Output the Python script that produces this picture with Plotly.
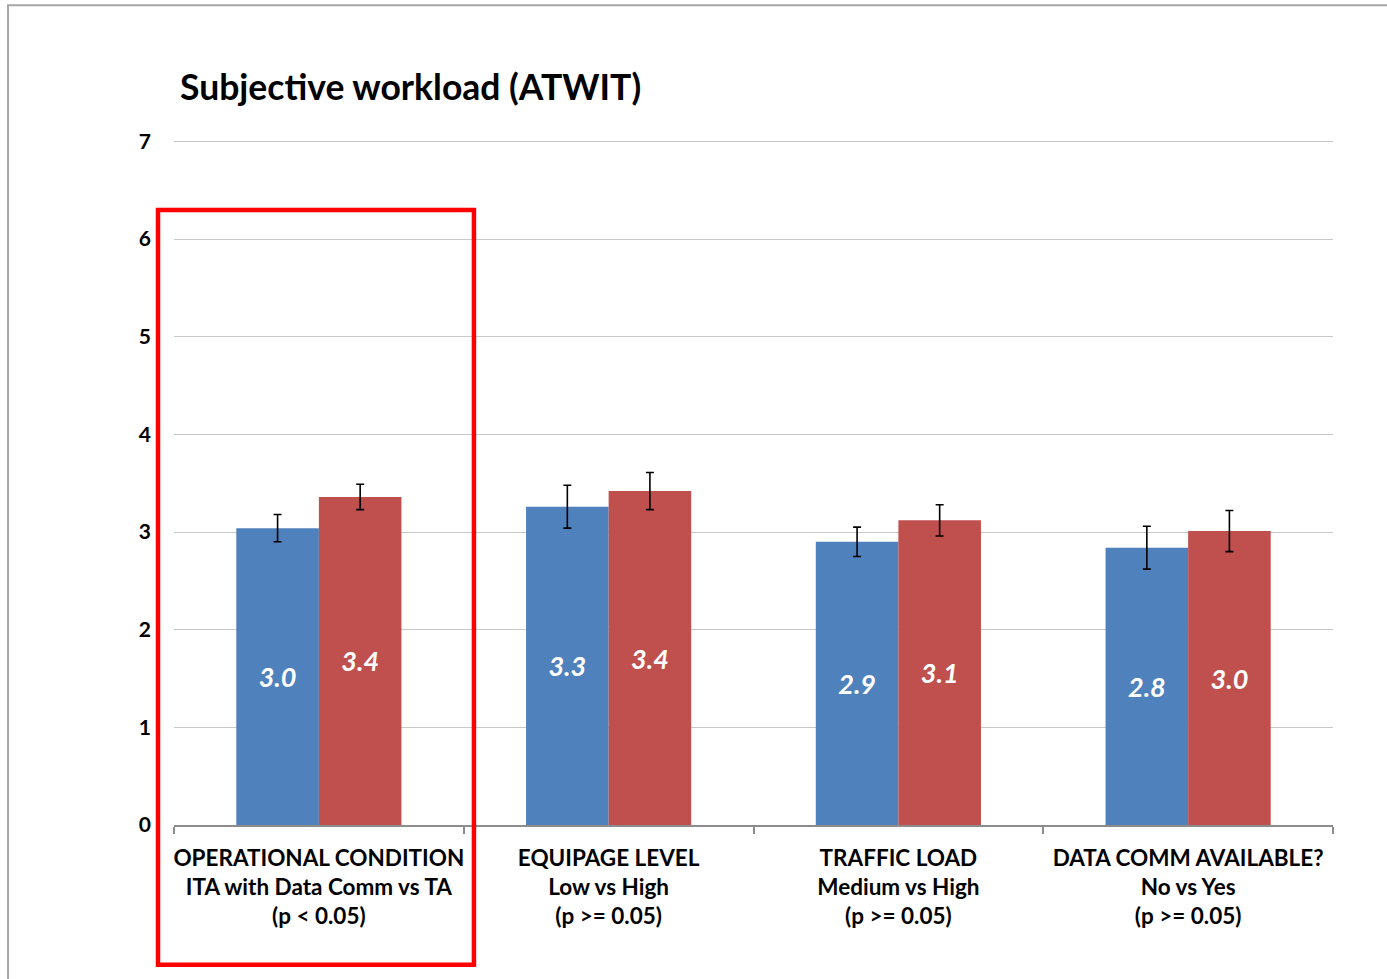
import plotly.graph_objects as go

# Factor labels (three lines each) and the two conditions compared within each factor
categories = [
    "OPERATIONAL CONDITION<br>ITA with Data Comm vs TA<br>(p < 0.05)",
    "EQUIPAGE LEVEL<br>Low vs High<br>(p >= 0.05)",
    "TRAFFIC LOAD<br>Medium vs High<br>(p >= 0.05)",
    "DATA COMM AVAILABLE?<br>No vs Yes<br>(p >= 0.05)",
]
first_level_means = [3.04, 3.26, 2.90, 2.84]
second_level_means = [3.36, 3.42, 3.12, 3.01]
first_level_err = [0.14, 0.22, 0.15, 0.22]
second_level_err = [0.13, 0.19, 0.16, 0.21]
y_ticks = [0, 1, 2, 3, 4, 5, 6, 7]

FONT = "Lato, 'Open Sans', sans-serif"
BLUE = "#4F81BD"
RED = "#C0504D"

fig = go.Figure()
for vals, errs, color in [
    (first_level_means, first_level_err, BLUE),
    (second_level_means, second_level_err, RED),
]:
    fig.add_trace(go.Bar(
        x=categories,
        y=vals,
        marker=dict(color=color, line=dict(width=0)),
        error_y=dict(type="data", array=errs, color="#000000", thickness=1.6, width=4),
        texttemplate="%{y:.1f}",
        textposition="inside",
        insidetextanchor="middle",
        textangle=0,
        textfont=dict(family=FONT, size=27, color="white", weight="bold", style="italic"),
        hoverinfo="skip",
        showlegend=False,
    ))

fig.update_layout(
    width=1387,
    height=979,
    margin=dict(l=174, r=54, t=140, b=154),
    paper_bgcolor="white",
    plot_bgcolor="white",
    barmode="group",
    bargap=0.43,
    bargroupgap=0,
    font=dict(family=FONT, color="#000000"),
    xaxis=dict(
        type="category",
        range=[-0.5, 3.5],
        tickson="boundaries",
        ticks="outside",
        ticklen=7,
        tickcolor="#8C8C8C",
        tickwidth=1.5,
        tickangle=0,
        automargin=False,
        showline=True,
        linecolor="#8C8C8C",
        linewidth=1.5,
        showgrid=False,
        tickfont=dict(family=FONT, size=22.5, color="#000000", weight="bold"),
        ticklabelstandoff=12,
    ),
    yaxis=dict(
        range=[0, 7.015],
        tickvals=y_ticks,
        automargin=False,
        showgrid=True,
        gridcolor="#C8C8C8",
        gridwidth=1.3,
        zeroline=False,
        showline=False,
        ticks="",
        tickfont=dict(family=FONT, size=21, color="#000000", weight="bold"),
        ticklabelstandoff=22,
    ),
    annotations=[
        dict(
            text="Subjective workload (ATWIT)",
            xref="paper", yref="paper",
            x=0.0035, y=1.078,
            xanchor="left", yanchor="middle",
            showarrow=False,
            font=dict(family=FONT, size=35.5, color="#000000", weight="bold"),
        )
    ],
    shapes=[
        # thin frame around the whole chart
        dict(type="rect", xref="paper", yref="paper",
             x0=-0.1432, x1=1.2, y0=-0.6, y1=1.1967,
             line=dict(color="#A6A6A6", width=2), layer="below"),
        # highlight around the significant factor
        dict(type="rect", xref="paper", yref="paper",
             x0=-0.0138, x1=0.2588, y0=-0.204, y1=0.8978,
             line=dict(color="#FF0000", width=4.5), layer="above"),
    ],
)

fig.write_html("out.html")
